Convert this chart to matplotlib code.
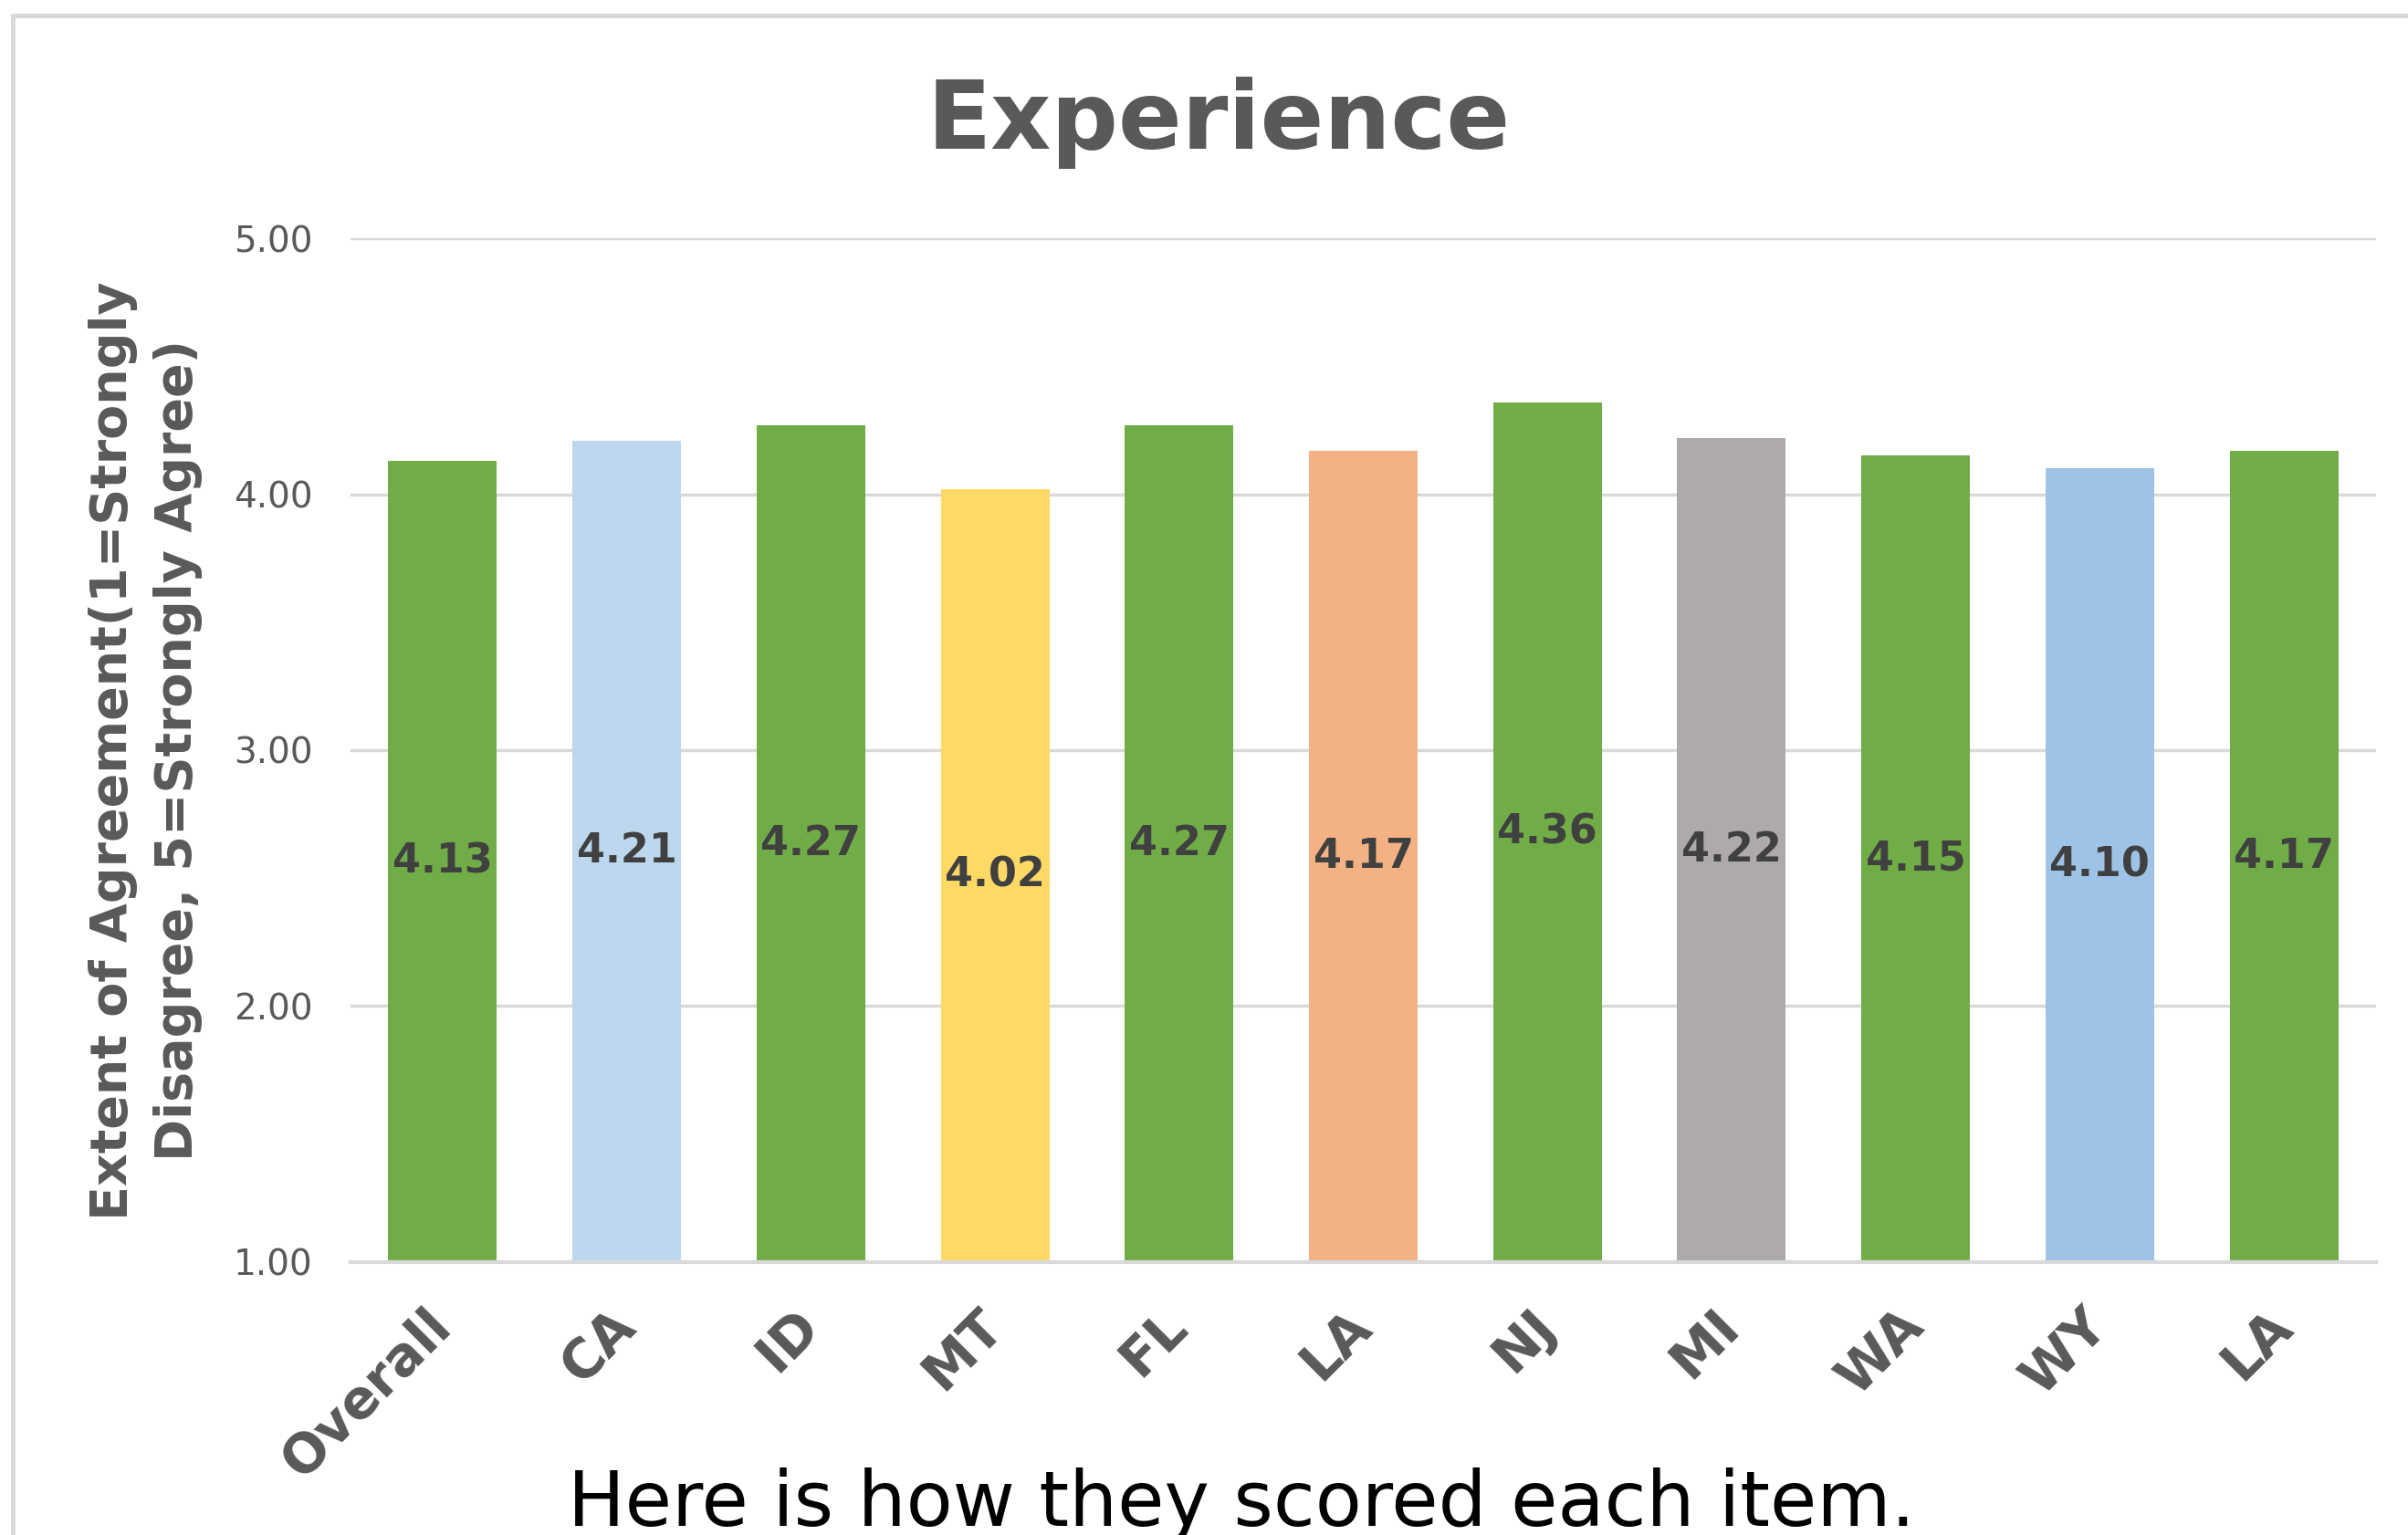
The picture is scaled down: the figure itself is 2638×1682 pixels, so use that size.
import matplotlib
matplotlib.use("Agg")
from matplotlib import pyplot as plt
from matplotlib.patches import Rectangle

# chart data
categories = ["Overall", "CA", "ID", "MT", "FL", "LA", "NJ", "MI", "WA", "WY", "LA"]
scores = [4.13, 4.21, 4.27, 4.02, 4.27, 4.17, 4.36, 4.22, 4.15, 4.10, 4.17]
bar_colors = ["#70AD47", "#BDD7EE", "#70AD47", "#FFD966", "#70AD47", "#F4B183",
              "#70AD47", "#AEAAAA", "#70AD47", "#9DC3E6", "#70AD47"]
y_ticks = [1.0, 2.0, 3.0, 4.0, 5.0]

title = "Experience"
y_label = "Extent of Agreement(1=Strongly\nDisagree, 5=Strongly Agree)"
caption = "Here is how they scored each item."

plt.rcParams["font.family"] = ["DejaVu Sans"]
text_gray = "#595959"
grid_gray = "#D9D9D9"

fig = plt.figure(figsize=(26.38, 16.82), dpi=100)
ax = fig.add_axes([0.1456, 0.1778, 0.8411, 0.667])

# outer frame (runs off the right and bottom edges)
fig.patches.append(Rectangle((0.0053, -0.05), 1.1, 1.04, transform=fig.transFigure,
                             fill=False, edgecolor="#D9D9D9", linewidth=3.5))

x = list(range(len(categories)))
heights = [s - 1.0 for s in scores]
bars = ax.bar(x, heights, bottom=1.0, width=0.59, color=bar_colors, zorder=3)
ax.bar_label(bars, labels=[f"{s:.2f}" for s in scores], label_type="center",
             fontsize=32, fontweight="bold", color="#404040")

ax.set_ylim(1.0, 5.0)
ax.set_xlim(-0.5, len(categories) - 0.5)
ax.set_yticks(y_ticks)
ax.set_yticklabels([f"{t:.2f}" for t in y_ticks], fontsize=28, color=text_gray)
ax.set_xticks(x)
ax.set_xticklabels(categories, rotation=45, ha="right", va="center",
                   rotation_mode="anchor", fontsize=42, color=text_gray,
                   fontweight="semibold")
ax.tick_params(axis="both", length=0)
ax.tick_params(axis="y", pad=30)
ax.tick_params(axis="x", pad=44)

ax.grid(axis="y", color=grid_gray, linewidth=2.5, zorder=0)
for side in ["top", "right", "left"]:
    ax.spines[side].set_visible(False)
ax.spines["bottom"].set_color(grid_gray)
ax.spines["bottom"].set_linewidth(3)
ax.spines["bottom"].set_zorder(4)

fig.text(0.506, 0.92, title, ha="center", va="center", fontsize=74,
         fontweight="bold", color=text_gray)
fig.text(0.0605, 0.511, y_label, rotation=90, ha="center", va="center",
         multialignment="center", fontsize=40, fontweight="bold",
         color=text_gray, linespacing=1.4)
fig.text(0.5155, 0.006, caption, ha="center", va="baseline", fontsize=60,
         color="black")

fig.savefig("out.png", dpi=100)
